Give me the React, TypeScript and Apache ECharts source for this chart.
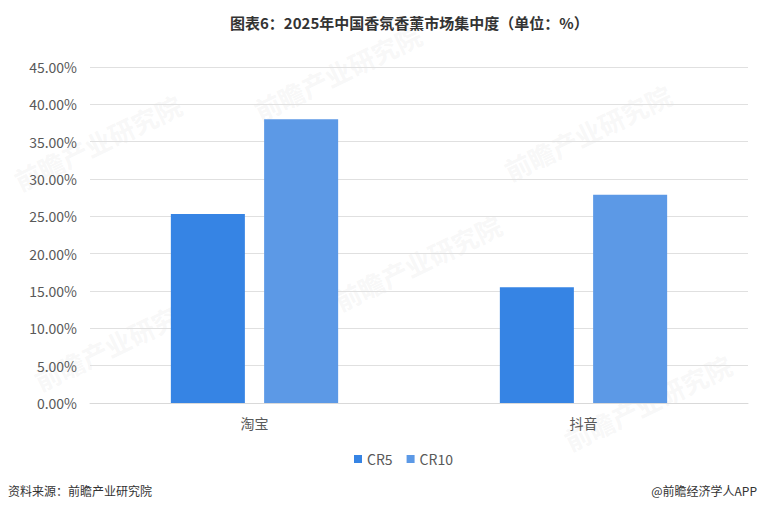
import React, { useEffect, useRef } from "react";
import * as echarts from "echarts";

const categories = ["淘宝", "抖音"];
const seriesNames = ["CR5", "CR10"];
const cr5 = [25.3, 15.5];
const cr10 = [38.0, 27.9];
const yTicks = [0, 5, 10, 15, 20, 25, 30, 35, 40, 45];

export default function App() {
  const ref = useRef<HTMLDivElement>(null);
  useEffect(() => {
    if (!ref.current) return;
    const chart = echarts.init(ref.current, undefined, { renderer: "svg" });
    const font = "'Microsoft YaHei', 'Noto Sans CJK SC', sans-serif";
    const wm = (x: number, y: number) => ({
      type: "text",
      x,
      y,
      rotation: 0.45,
      z: 0,
      style: {
        text: "前瞻产业研究院",
        fill: "rgba(200,200,200,0.15)",
        font: "bold 26px 'Noto Sans CJK SC'",
      },
    });
    chart.setOption({
      animation: false,
      backgroundColor: "#ffffff",
      title: {
        text: "图表6：2025年中国香氛香薰市场集中度（单位：%）",
        left: 225,
        top: 10,
        textStyle: { fontSize: 15, fontWeight: "bold", color: "#333333", fontFamily: font },
      },
      grid: { left: 90, right: 12, top: 67, bottom: 108 },
      legend: {
        data: seriesNames,
        top: 447,
        left: 349,
        itemWidth: 8,
        itemHeight: 8,
        itemGap: 14,
        icon: "rect",
        textStyle: { fontSize: 14, color: "#595959", fontFamily: font },
      },
      xAxis: {
        type: "category",
        data: categories,
        axisTick: { show: false },
        axisLine: { lineStyle: { color: "#d9d9d9" } },
        axisLabel: { fontSize: 14, color: "#595959", margin: 13, fontFamily: font },
      },
      yAxis: {
        type: "value",
        min: yTicks[0],
        max: yTicks[yTicks.length - 1],
        interval: 5,
        axisLine: { show: false },
        axisTick: { show: false },
        splitLine: { lineStyle: { color: "#e0e0e0" } },
        axisLabel: {
          fontSize: 14,
          color: "#595959",
          margin: 13,
          fontFamily: font,
          formatter: (v: number) => v.toFixed(2) + "%",
        },
      },
      series: [
        {
          name: seriesNames[0],
          type: "bar",
          data: cr5,
          barWidth: "22.5%",
          barGap: "26%",
          itemStyle: { color: "#3684E4" },
        },
        {
          name: seriesNames[1],
          type: "bar",
          data: cr10,
          barWidth: "22.5%",
          itemStyle: { color: "#5C99E6" },
        },
      ],
      graphic: [
        wm(10, 170),
        wm(250, 100),
        wm(500, 160),
        wm(30, 370),
        wm(330, 290),
        wm(560, 430),
        {
          type: "text",
          left: 8,
          top: 484,
          style: { text: "资料来源：前瞻产业研究院", fill: "#333333", font: "12px 'Noto Sans CJK SC'" },
        },
        {
          type: "text",
          right: 3,
          top: 484,
          style: { text: "@前瞻经济学人APP", fill: "#333333", font: "12px 'Noto Sans CJK SC'" },
        },
      ],
    });
    return () => chart.dispose();
  }, []);
  return <div ref={ref} style={{ width: 760, height: 511, position: "absolute", left: 0, top: 0 }} />;
}
